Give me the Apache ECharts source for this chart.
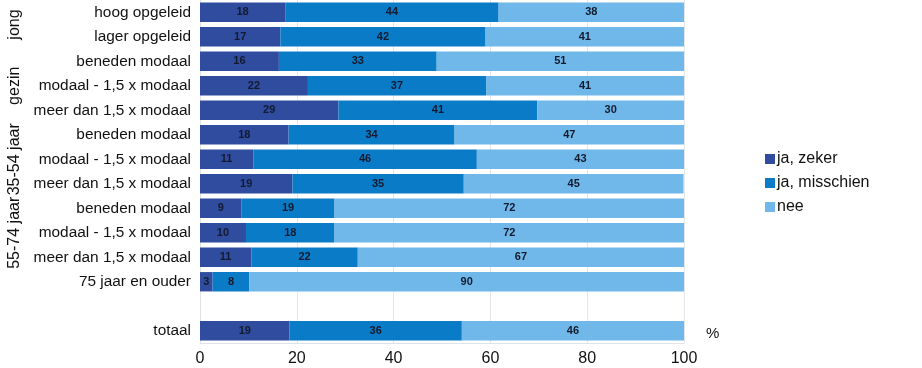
<!DOCTYPE html>
<html>
<head>
<meta charset="utf-8">
<script src="https://cdn.jsdelivr.net/npm/echarts@6/dist/echarts.min.js"></script>
<style>
html,body{margin:0;padding:0;background:#fff;}
#c{width:922px;height:368px;}
</style>
</head>
<body>
<div id="c"></div>
<script>
const categories = ['hoog opgeleid','lager opgeleid','beneden modaal','modaal - 1,5 x modaal','meer dan 1,5 x modaal','beneden modaal','modaal - 1,5 x modaal','meer dan 1,5 x modaal','beneden modaal','modaal - 1,5 x modaal','meer dan 1,5 x modaal','75 jaar en ouder','','totaal'];
const jaZeker     = [17.6,16.6,16.3,22.3,28.6,18.3,11.0,19.1, 8.6, 9.5,10.6, 2.6,'-',18.5];
const jaMisschien = [44.1,42.4,32.6,36.8,41.1,34.3,46.2,35.4,19.2,18.3,22.0, 7.6,'-',35.6];
const nee         = [38.3,41.0,51.1,40.9,30.3,47.4,42.8,45.4,72.2,72.2,67.4,89.8,'-',45.9];
const seriesNames = ['ja, zeker','ja, misschien','nee'];
const xTicks = [0,20,40,60,80,100];
const groups = [
  {name:'jong', from:0, to:1},
  {name:'gezin', from:2, to:4},
  {name:'35-54 jaar', from:5, to:7},
  {name:'55-74 jaar', from:8, to:10}
];
const unitLabel = '%';

const colors = ['#2f4c9f','#0a7bc6','#70b8ea'];
const font = 'Liberation Sans, Arial, sans-serif';

const chart = echarts.init(document.getElementById('c'), null, {renderer:'canvas'});

function mkSeries(name, data, color){
  return {
    name: name, type:'bar', stack:'s', data: data,
    barCategoryGap:'21%',
    itemStyle:{color: color},
    label:{show:true, position:'inside', fontFamily:font, fontSize:11, fontWeight:'bold', color:'#131a2e',
      formatter: p => Math.round(p.value)},
    emphasis:{disabled:true}
  };
}

const option = {
  animation:false,
  backgroundColor:'#fff',
  grid:{left:200, right:238, top:-2, bottom:25, containLabel:false},
  legend:{
    orient:'vertical', left:760, top:146,
    itemWidth:10, itemHeight:10, itemGap:8,
    icon:'rect',
    textStyle:{fontFamily:font, fontSize:16, color:'#111', padding:[0,0,0,-3]},
    data: seriesNames
  },
  xAxis:{
    type:'value', min:0, max:100, interval:20,
    axisLine:{show:true, lineStyle:{color:'#dfe3e8'}},
    axisTick:{show:false},
    splitLine:{show:true, lineStyle:{color:'#e3e6ea', width:1}},
    axisLabel:{fontFamily:font, fontSize:16, color:'#111', margin:8,
      formatter: v => xTicks.includes(v) ? String(v) : ''}
  },
  yAxis:{
    type:'category', data: categories, inverse:true,
    axisLine:{show:true, lineStyle:{color:'#dfe3e8'}},
    axisTick:{show:false},
    axisLabel:{fontFamily:font, fontSize:15.4, color:'#111', margin:9}
  },
  series:[
    mkSeries(seriesNames[0], jaZeker, colors[0]),
    mkSeries(seriesNames[1], jaMisschien, colors[1]),
    mkSeries(seriesNames[2], nee, colors[2])
  ]
};
chart.setOption(option);

// group labels and unit label positioned via axis conversions
const gfx = [];
groups.forEach(g => {
  const y1 = chart.convertToPixel({yAxisIndex:0}, g.from);
  const y2 = chart.convertToPixel({yAxisIndex:0}, g.to);
  gfx.push({
    type:'text', x:15, y:(y1+y2)/2, rotation:Math.PI/2,
    style:{text:g.name, font:'16px ' + font, fill:'#111', align:'center', verticalAlign:'middle'}
  });
});
const xEnd = chart.convertToPixel({xAxisIndex:0}, 100);
const yTot = chart.convertToPixel({yAxisIndex:0}, categories.length - 1);
gfx.push({
  type:'text', x:xEnd + 22, y:yTot + 3,
  style:{text:unitLabel, font:'15px ' + font, fill:'#111', align:'left', verticalAlign:'middle'}
});
chart.setOption({graphic: gfx});
</script>
</body>
</html>
